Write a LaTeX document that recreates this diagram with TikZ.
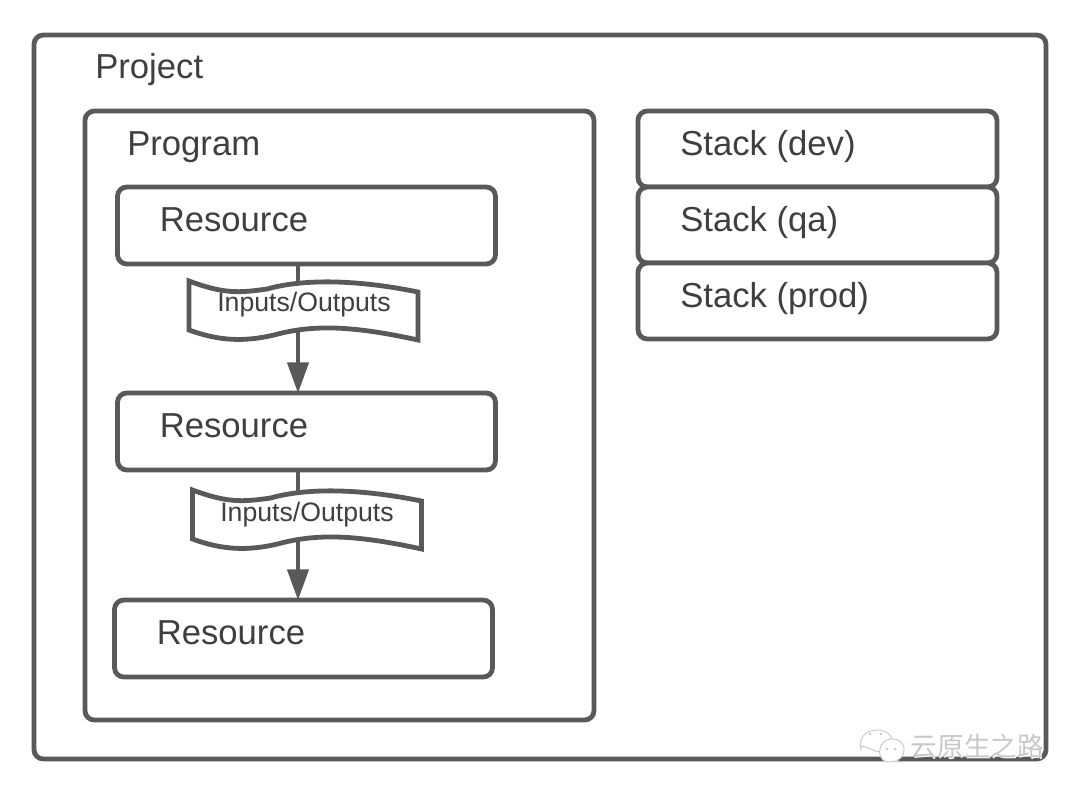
\documentclass[tikz,border=0pt]{standalone}
\usepackage{fontspec}
\setmainfont{Liberation Sans}
\newfontfamily\cjkfont{Noto Sans CJK SC}
\usetikzlibrary{arrows.meta}

\definecolor{linegray}{HTML}{595959}
\definecolor{textgray}{HTML}{3F3F3F}
\definecolor{markgray}{HTML}{C8C8C8}

\tikzset{
  box/.style={draw=linegray,line width=3.6pt,rounded corners=7pt,outer sep=0pt,fill=white},
  boxtext/.style={anchor=base west,inner sep=0pt,text=textgray,font=\fontsize{26}{30}\selectfont},
  iotext/.style={inner sep=0pt,text=textgray,font=\fontsize{20}{24}\selectfont},
  flow/.style={draw=linegray,line width=2.5pt,-{Triangle[length=23pt,width=16pt]}},
  iowave/.pic={
    \draw[linegray,line width=3.6pt,fill=white,miter limit=4]
      (0,0) .. controls (35,13) and (50,12) .. (78,8)
      .. controls (110,-1) and (160,-3) .. (229,11)
      -- (229,59)
      .. controls (165,45) and (125,43) .. (85,54)
      .. controls (55,61) and (30,60) .. (0,49) -- cycle;
  },
}

\begin{document}
\begin{tikzpicture}[x=0.75pt,y=-0.75pt]
\useasboundingbox (0,0) rectangle (1080,794);

% outer frames
\node[box,minimum width=759pt,minimum height=543pt] (project) at (540,397) {};
\node[box,minimum width=381.75pt,minimum height=456.75pt] (program) at (339.5,415.5) {};

% stacks
\node[box,minimum width=269.25pt,minimum height=57pt] (dev) at (817.5,149) {};
\node[box,minimum width=269.25pt,minimum height=57pt] (qa) at (817.5,225) {};
\node[box,minimum width=269.25pt,minimum height=57pt] (prod) at (817.5,301) {};

% resources
\node[box,minimum width=283.5pt,minimum height=57.75pt] (res1) at (306.5,225.5) {};
\node[box,minimum width=283.5pt,minimum height=57.75pt] (res2) at (306.5,431.5) {};
\node[box,minimum width=283.5pt,minimum height=57.75pt] (res3) at (303.5,638.5) {};

% links between resources
\draw[flow] (298,0 |- res1.south) -- (298,0 |- res2.north);
\draw[flow] (298,0 |- res2.south) -- (298,0 |- res3.north);

\pic at (189,281) {iowave};
\pic at (192.5,490) {iowave};
\node[iotext] (io1) at (304,305) {Inputs/Outputs};
\node[iotext] (io2) at (307,515) {Inputs/Outputs};

% labels
\node[boxtext] (projecttext) at (95,78) {Project};
\node[boxtext] (programtext) at (127,155) {Program};
\node[boxtext] (devtext) at (680,155) {Stack (dev)};
\node[boxtext] (qatext) at (680,231) {Stack (qa)};
\node[boxtext] (prodtext) at (680,307) {Stack (prod)};
\node[boxtext] (res1text) at (159.5,231) {Resource};
\node[boxtext] (res2text) at (159.5,437) {Resource};
\node[boxtext] (res3text) at (156.5,644) {Resource};

% corner mark
\draw[markgray,line width=0.7pt,fill=white] (884,759) -- (880,752) .. controls (868,750) and (861,742) .. (861,749)
  .. controls (858,738) and (866,730) .. (877,730) .. controls (889,730) and (894,738) .. (892,746) -- cycle;
\draw[markgray,line width=0.7pt,fill=white] (888,762) .. controls (877,761) and (877,744) .. (887,740)
  .. controls (896,736) and (905,743) .. (904,750) .. controls (904,756) and (900,759) .. (897,760) -- (900,762) -- (894,761) .. controls (892,762) and (890,762) .. (888,762) -- cycle;
\fill[markgray] (887,749) circle (1pt) (895,749) circle (1pt) (870,734) circle (1pt) (881,734) circle (1pt);
\node[inner sep=0pt,text=white,font=\cjkfont\fontsize{20}{24}\selectfont] (marktop) at (978.5,747) {云原生之路};
\node[inner sep=0pt,text=markgray,font=\cjkfont\fontsize{20}{24}\selectfont] (mark) at (977.5,746) {云原生之路};
\end{tikzpicture}
\end{document}
